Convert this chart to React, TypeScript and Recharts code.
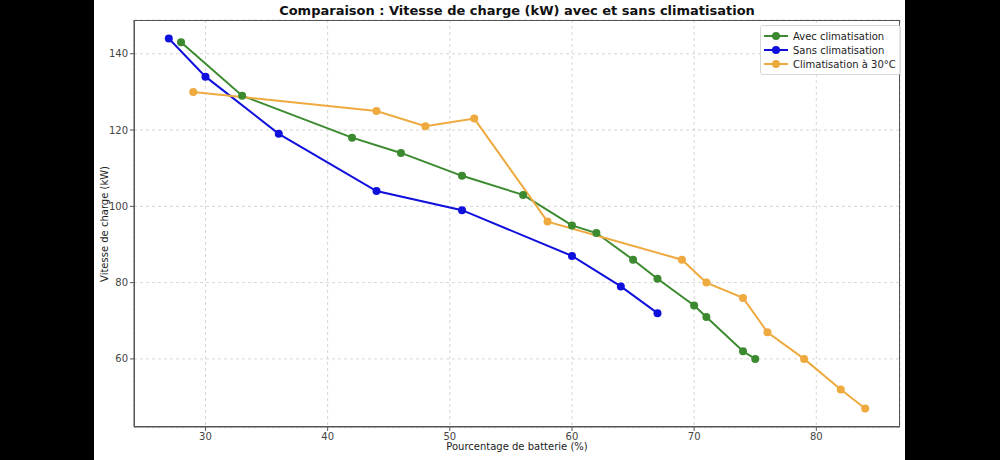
import React from "react";
import { LineChart, Line, XAxis, YAxis, CartesianGrid } from "recharts";

const avecX = [28, 33, 42, 46, 51, 56, 60, 62, 65, 67, 70, 71, 74, 75];
const avecY = [143, 129, 118, 114, 108, 103, 95, 93, 86, 81, 74, 71, 62, 60];
const sansX = [27, 30, 36, 44, 51, 60, 64, 67];
const sansY = [144, 134, 119, 104, 99, 87, 79, 72];
const clim30X = [29, 44, 48, 52, 58, 69, 71, 74, 76, 79, 82, 84];
const clim30Y = [130, 125, 121, 123, 96, 86, 80, 76, 67, 60, 52, 47];
const xTicks = [30, 40, 50, 60, 70, 80];
const yTicks = [60, 80, 100, 120, 140];

const zip = (xs: number[], ys: number[]) => xs.map((x, i) => ({ x, y: ys[i] }));

const series = [
  { name: "Avec climatisation", color: "#3c8a2f", data: zip(avecX, avecY) },
  { name: "Sans climatisation", color: "#1010dd", data: zip(sansX, sansY) },
  { name: "Climatisation à 30°C", color: "#eeaa3e", data: zip(clim30X, clim30Y) },
];

const FONT = "'DejaVu Sans', sans-serif";

const LegendBox = () => (
  <div
    style={{
      position: "absolute",
      left: 760,
      top: 25,
      background: "rgba(255,255,255,0.85)",
      border: "1px solid #d8d8d8",
      borderRadius: 3,
      padding: "3px 4px 3px 2px",
      fontFamily: FONT,
      fontSize: 10,
      color: "#222",
    }}
  >
    {series.map((s) => (
      <div key={s.name} style={{ display: "flex", alignItems: "center", height: 14 }}>
        <svg width={26} height={12} style={{ marginRight: 4 }}>
          <line x1={1} y1={6} x2={25} y2={6} stroke={s.color} strokeWidth={2} />
          <circle cx={13} cy={6} r={4} fill={s.color} />
        </svg>
        <span>{s.name}</span>
      </div>
    ))}
  </div>
);

export default function App() {
  return (
    <div
      style={{
        position: "absolute",
        left: 0,
        top: 0,
        width: 1000,
        height: 460,
        background: "#000",
        fontFamily: FONT,
      }}
    >
      <div style={{ position: "absolute", left: 94, top: 0, width: 811, height: 460, background: "#fff" }} />
      <div
        style={{
          position: "absolute",
          left: 0,
          top: 3,
          width: 1034,
          textAlign: "center",
          fontSize: 13,
          fontWeight: "bold",
          color: "#111",
          fontFamily: FONT,
        }}
      >
        Comparaison : Vitesse de charge (kW) avec et sans climatisation
      </div>
      <div
        style={{
          position: "absolute",
          left: 0,
          top: 441,
          width: 1034,
          textAlign: "center",
          fontSize: 10,
          color: "#222",
        }}
      >
        Pourcentage de batterie (%)
      </div>
      <div
        style={{
          position: "absolute",
          left: 104,
          top: 224,
          transform: "translate(-50%, -50%) rotate(-90deg)",
          fontSize: 10,
          color: "#222",
          whiteSpace: "nowrap",
        }}
      >
        Vitesse de charge (kW)
      </div>
      <div style={{ position: "absolute", left: 0, top: 0 }}>
        <LineChart width={1000} height={460} margin={{ top: 20, right: 100, bottom: 0, left: 94 }}>
          <CartesianGrid stroke="#cccccc" strokeDasharray="3 3" strokeWidth={0.8} />
          <XAxis
            type="number"
            dataKey="x"
            domain={[24.15, 86.85]}
            ticks={xTicks}
            allowDataOverflow
            height={33}
            stroke="#555"
            tickSize={4}
            tick={{ fontSize: 10, fill: "#444", fontFamily: FONT }}
            tickLine={{ stroke: "#555" }}
          />
          <YAxis
            type="number"
            dataKey="y"
            domain={[42.15, 148.85]}
            ticks={yTicks}
            allowDataOverflow
            width={40}
            stroke="#555"
            tickSize={4}
            tick={{ fontSize: 10, fill: "#444", fontFamily: FONT }}
            tickLine={{ stroke: "#555" }}
          />
          {series.map((s) => (
            <Line
              key={s.name}
              data={s.data}
              dataKey="y"
              name={s.name}
              stroke={s.color}
              strokeWidth={2}
              dot={{ r: 4, fill: s.color, stroke: s.color, strokeWidth: 0 }}
              activeDot={false}
              isAnimationActive={false}
            />
          ))}
        </LineChart>
      </div>
      <div
        style={{
          position: "absolute",
          left: 134,
          top: 20,
          width: 766,
          height: 407,
          boxSizing: "border-box",
          border: "1px solid #555",
          pointerEvents: "none",
        }}
      />
      <LegendBox />
    </div>
  );
}
